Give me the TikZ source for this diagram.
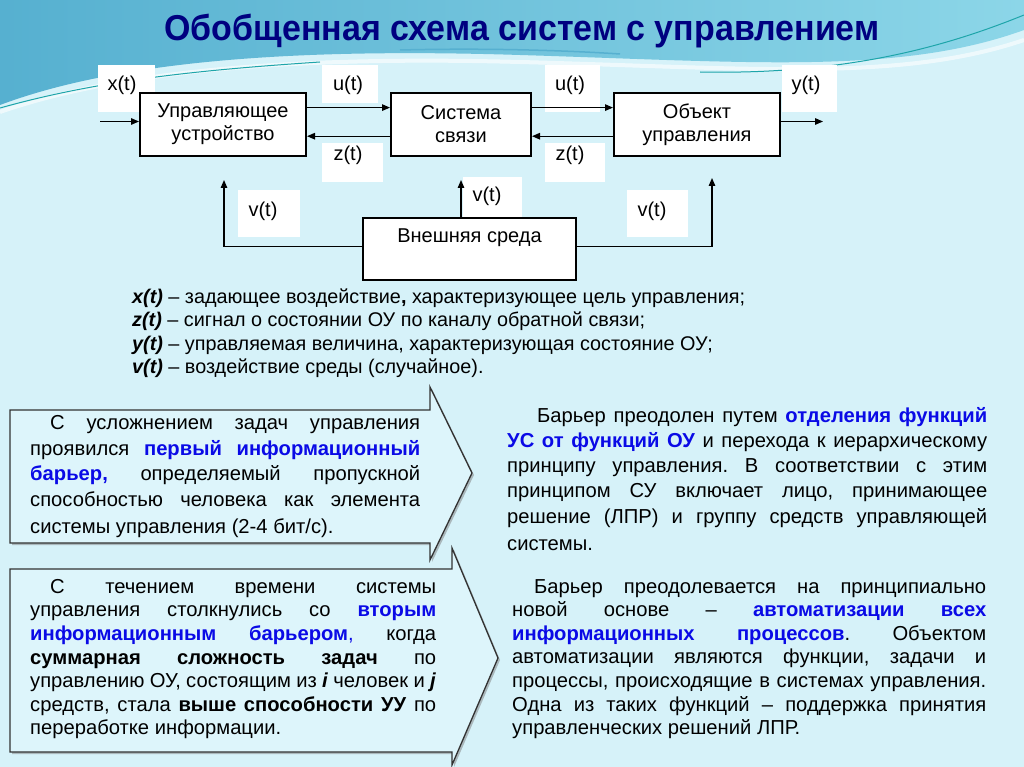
\documentclass[tikz,border=0pt]{standalone}
\usepackage{fontspec}
\setmainfont{Liberation Sans}
\usepackage{graphicx}
\usetikzlibrary{arrows.meta,calc}
\definecolor{bgc}{RGB}{214,242,249}
\definecolor{navy}{RGB}{0,0,128}
\definecolor{txtblue}{RGB}{10,10,230}
\definecolor{bandA}{RGB}{86,176,208}
\definecolor{bandB}{RGB}{140,214,232}
\definecolor{waveteal}{RGB}{30,165,170}
\definecolor{arrfill}{RGB}{221,245,251}
\definecolor{edgec}{RGB}{50,50,50}
\newcommand{\jline}[2]{\makebox[#1][s]{#2}}
\newcommand{\hb}[1]{{\color{txtblue}\bfseries #1}}
\begin{document}
\frenchspacing
\begin{tikzpicture}[x=1pt,y=-1pt,
  blk/.style={draw=black, line width=2pt, fill=white, inner sep=0, align=center, font=\fontsize{20}{23}\selectfont},
  lbltxt/.style={inner sep=0, font=\fontsize{20}{23}\selectfont},
  arr/.style={line width=1.3pt, -{Triangle[length=8pt,width=6.5pt]}},
  barrow/.style={draw=edgec, line width=1.3pt, fill=arrfill},
  legend/.style={anchor=base west, inner sep=0, font=\fontsize{19.8}{22}\selectfont},
  para/.style={anchor=north west, align=left, inner sep=0}
]
\useasboundingbox (0,0) rectangle (1024,767);
% background
\fill[bgc] (0,0) rectangle (1024,767);
\shade[left color=bandA, right color=bandB]
  (0,0) -- (1024,0) -- (1024,30) .. controls (900,75) and (750,62) .. (520,55)
  .. controls (300,48) and (120,60) .. (0,105) -- cycle;
\draw[white, line width=4pt, opacity=0.6] (0,112) .. controls (120,70) and (300,56) .. (520,62)
  .. controls (750,68) and (900,82) .. (1024,40);
\draw[waveteal, line width=1pt] (0,108) .. controls (100,80) and (200,70) .. (320,62);
\draw[waveteal, line width=1pt] (700,72) .. controls (850,75) and (950,45) .. (1024,15);
\draw[bandA, line width=1.5pt] (400,50) .. controls (480,48) and (560,50) .. (620,54);

% title
\node[text=navy, inner sep=0] (title) at (522,31)
  {\resizebox{715pt}{\height}{\fontsize{36}{40}\selectfont\bfseries Обобщенная схема систем с управлением}};

% white label backgrounds
\fill[white] (98,65) rectangle (155,112);
\fill[white] (322,65) rectangle (378,103);
\fill[white] (322,143) rectangle (383,182);
\fill[white] (463,177) rectangle (522,217);
\fill[white] (238,190) rectangle (300,237);
\fill[white] (545,65) rectangle (600,112);
\fill[white] (545,143) rectangle (605,182);
\fill[white] (782,65) rectangle (837,112);
\fill[white] (627,190) rectangle (688,237);

% blocks
\node[blk, minimum width=166pt, minimum height=63pt] (uu) at (223,124.5) {Управляющее\\устройство};
\node[blk, minimum width=140pt, minimum height=63pt] (cs) at (461,124.5) {Система\\связи};
\node[blk, minimum width=166pt, minimum height=63pt] (ou) at (697,124.5) {Объект\\управления};
\node[blk, minimum width=213pt, minimum height=62pt] (env) at (469.5,249) {};
\node[lbltxt] (envtxt) at (469.5,238) {Внешняя среда};

% labels
\node[lbltxt] (lx) at (122,85) {x(t)};
\node[lbltxt] (lu1) at (348,85) {u(t)};
\node[lbltxt] (lz1) at (348,155) {z(t)};
\node[lbltxt] (lvm) at (487,196) {v(t)};
\node[lbltxt] (lvl) at (263,211) {v(t)};
\node[lbltxt] (lu2) at (570,85) {u(t)};
\node[lbltxt] (lz2) at (570,155) {z(t)};
\node[lbltxt] (ly) at (806,85) {y(t)};
\node[lbltxt] (lvr) at (652,211) {v(t)};

% connectors
\coordinate (xin) at (100,121.5);
\coordinate (yout) at (823,121.5);
\coordinate (vl) at (224,180);
\coordinate (vm) at (461,180);
\coordinate (vr) at (712,178);
\draw[arr] (xin) -- (xin -| uu.west);
\draw[arr] ($(uu.north east)!0.24!(uu.south east)$) -- ($(cs.north west)!0.24!(cs.south west)$);
\draw[arr] ($(cs.north west)!0.68!(cs.south west)$) -- ($(uu.north east)!0.68!(uu.south east)$);
\draw[arr] ($(cs.north east)!0.24!(cs.south east)$) -- ($(ou.north west)!0.24!(ou.south west)$);
\draw[arr] ($(ou.north west)!0.68!(ou.south west)$) -- ($(cs.north east)!0.68!(cs.south east)$);
\draw[arr] (yout -| ou.east) -- (yout);
\draw[arr] ($(env.north west)!0.46!(env.south west)$) -| (vl);
\draw[arr] (vm |- env.north) -- (vm);
\draw[arr] ($(env.north east)!0.46!(env.south east)$) -| (vr);

% legend
\node[legend] (leg1) at (132,303) {\textbf{\textit{x(t)}} – задающее воздействие\textbf{,} характеризующее цель управления;};
\node[legend] (leg2) at (132,326) {\textbf{\textit{z(t)}} – сигнал о состоянии ОУ по каналу обратной связи;};
\node[legend] (leg3) at (132,350) {\textbf{\textit{y(t)}} – управляемая величина, характеризующая состояние ОУ;};
\node[legend] (leg4) at (132,373) {\textbf{\textit{v(t)}} – воздействие среды (случайное).};

% block arrows
\fill[gray, opacity=0.5, shift={(2,2)}] (10,410) -- (430,410) -- (430,387) -- (472,473) -- (430,560) -- (430,543) -- (10,543) -- cycle;
\draw[barrow] (10,410) -- (430,410) -- (430,387) -- (472,473) -- (430,560) -- (430,543) -- (10,543) -- cycle;
\fill[gray, opacity=0.5, shift={(2,2)}] (10,569) -- (452,569) -- (452,548) -- (498,658) -- (452,765) -- (452,752) -- (10,752) -- cycle;
\draw[barrow] (10,569) -- (452,569) -- (452,548) -- (498,658) -- (452,765) -- (452,752) -- (10,752) -- cycle;

% paragraphs
\node[para, font=\fontsize{20.2}{25.8}\selectfont] (p1) at (30,415) {%
\jline{390pt}{\hspace*{20pt}С усложнением задач управления}\\
\jline{390pt}{проявился \hb{первый информационный}}\\
\jline{390pt}{\hb{барьер,} определяемый пропускной}\\
\jline{390pt}{способностью человека как элемента}\\[1pt]
системы управления (2-4 бит/с).};

\node[para, font=\fontsize{20.2}{25.2}\selectfont] (p2) at (507,407) {%
\jline{480pt}{\hspace*{30pt}Барьер преодолен путем \hb{отделения функций}}\\
\jline{480pt}{\hb{УС от функций ОУ} и перехода к иерархическому}\\
\jline{480pt}{принципу управления. В соответствии с этим}\\
\jline{480pt}{принципом СУ включает лицо, принимающее}\\
\jline{480pt}{решение (ЛПР) и группу средств управляющей}\\[2.5pt]
системы.};

\node[para, font=\fontsize{20.2}{23.6}\selectfont] (p3) at (30,579) {%
\jline{406pt}{\hspace*{20pt}С течением времени системы}\\
\jline{406pt}{управления столкнулись со \hb{вторым}}\\
\jline{406pt}{\hb{информационным барьером}{\color{txtblue},} когда}\\
\jline{406pt}{\textbf{суммарная сложность задач} по}\\
\jline{406pt}{управлению ОУ, состоящим из \textbf{\textit{i}} человек и \textbf{\textit{j}}}\\
\jline{406pt}{средств, стала \textbf{выше способности УУ} по}\\
переработке информации.};

\node[para, font=\fontsize{20.2}{23.6}\selectfont] (p4) at (512,579) {%
\jline{474pt}{\hspace*{22pt}Барьер преодолевается на принципиально}\\
\jline{474pt}{новой основе – \hb{автоматизации всех}}\\
\jline{474pt}{\hb{информационных процессов}. Объектом}\\
\jline{474pt}{автоматизации являются функции, задачи и}\\
\jline{474pt}{процессы, происходящие в системах управления.}\\
\jline{474pt}{Одна из таких функций – поддержка принятия}\\
управленческих решений ЛПР.};
\end{tikzpicture}
\end{document}
